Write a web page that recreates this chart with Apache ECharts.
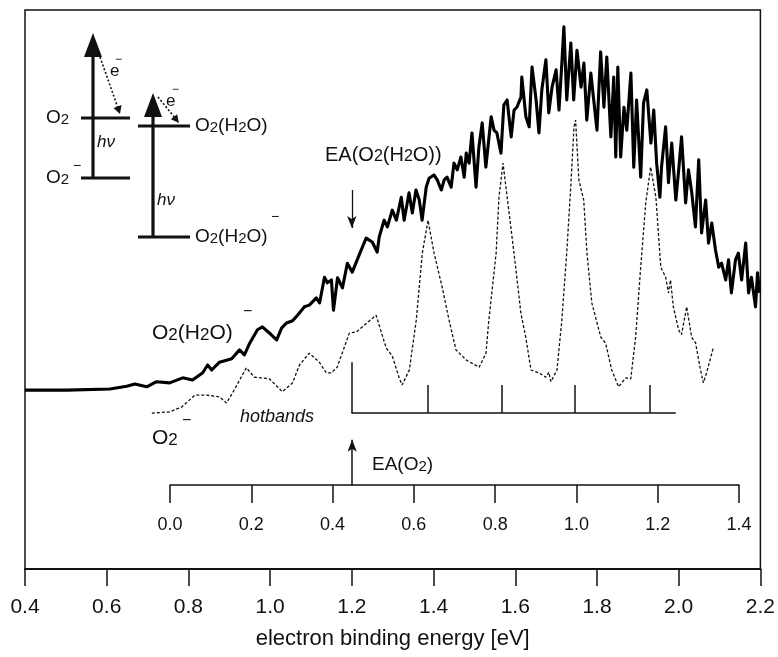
<!DOCTYPE html>
<html>
<head>
<meta charset="utf-8">
<script src="https://cdn.jsdelivr.net/npm/echarts@6/dist/echarts.min.js"></script>
<style>
html,body{margin:0;padding:0;background:#fff;}
#chart{width:778px;height:657px;}
</style>
</head>
<body>
<div id="chart"></div>
<script>
// ---------------- DATA ----------------
// O2(H2O)- photoelectron spectrum (solid), electron binding energy [eV] vs intensity (arb.)
const o2h2oEnergy = [0.400,0.503,0.608,0.649,0.669,0.698,0.722,0.754,0.786,0.810,0.835,0.847,0.857,0.876,0.906,0.925,0.937,0.950,0.969,0.981,1.003,1.016,1.028,1.040,1.055,1.067,1.084,1.096,1.113,1.121,1.133,1.140,1.150,1.155,1.165,1.177,1.189,1.201,1.218,1.235,1.250,1.262,
  1.267,1.279,1.287,1.299,1.309,1.321,1.328,1.340,1.348,1.357,1.365,1.372,1.382,1.389,1.401,1.409,1.419,1.426,1.433,1.443,1.450,1.458,1.467,1.475,1.480,1.487,1.494,1.504,1.511,1.519,1.528,1.541,1.548,1.555,1.565,1.572,1.580,1.590,1.597,1.604,1.614,1.616,1.626,1.634,1.641,1.651,1.658,1.665,1.675,1.682,1.690,1.700,1.707,1.714,1.719,1.726,1.736,1.743,1.751,1.761,1.768,1.775,1.785,1.792,1.800,1.809,1.817,1.824,1.834,1.841,1.846,1.851,1.858,1.866,1.873,1.883,1.890,1.897,1.907,1.914,1.922,1.932,1.939,1.946,1.954,1.958,1.968,1.975,1.983,1.993,2.000,2.007,2.017,2.024,2.032,2.041,2.049,2.056,2.066,2.073,2.081,2.090,2.098,2.105,2.115,2.122,2.129,2.139,2.146,2.154,2.164,2.171,2.178,2.188,2.193,2.198];
const o2h2oIntensity = [32.0,32.0,32.2,32.7,33.1,32.6,33.5,33.3,34.2,33.8,35.1,36.5,35.6,37.0,37.6,39.2,38.3,40.4,42.8,43.3,41.9,41.0,43.1,44.0,44.4,45.4,46.9,47.2,48.5,47.6,52.2,51.2,51.7,46.3,52.1,50.3,54.7,53.1,56.2,59.2,58.5,56.7,
  59.4,62.4,61.2,64.2,62.4,66.5,62.4,67.3,63.7,67.8,66.0,62.4,68.3,69.9,70.5,69.6,67.8,69.6,70.1,68.3,72.6,71.4,73.7,70.1,74.4,72.6,78.0,68.3,75.5,79.8,71.9,80.9,78.5,78.0,74.4,83.0,83.9,77.3,82.1,82.6,84.4,88.0,80.9,79.1,89.8,83.9,78.0,85.7,91.1,81.6,86.2,89.3,82.1,90.5,97.0,83.9,94.1,83.9,92.8,86.2,90.5,80.3,88.7,83.9,78.5,92.5,82.6,91.6,77.3,88.0,73.7,89.8,73.7,82.6,78.5,88.7,71.9,83.9,70.1,83.4,85.7,76.2,82.1,72.6,66.5,71.9,79.1,69.1,76.2,66.0,71.4,77.3,65.5,71.4,67.3,61.2,73.2,60.1,66.0,58.3,61.9,57.1,54.0,54.7,51.7,55.3,49.4,55.3,56.5,51.7,58.3,49.4,52.2,46.9,53.0,49.4];

// O2- photoelectron spectrum (dotted), on the inner O2- binding energy scale [eV]
const o2Energy = [-0.044,0.000,0.030,0.062,0.091,0.123,0.140,0.155,0.189,0.209,0.229,0.246,0.278,0.303,0.320,0.344,0.369,0.386,0.399,0.413,0.443,0.460,0.509,0.534,0.549,0.566,0.573,0.591,0.608,0.623,0.637,0.652,0.672,0.689,0.706,0.731,0.763,0.780,0.787,0.805,0.812,0.822,0.837,0.854,0.866,0.878,0.891,0.910,0.928,0.935,0.940,0.955,0.967,0.979,0.989,0.997,1.001,1.009,1.021,1.029,1.041,1.063,1.075,1.090,1.107,1.125,1.137,1.149,1.161,1.174,1.186,1.199,1.211,1.223,1.230,1.235,1.242,1.255,1.262,1.275,1.287,1.297,1.309,1.316,1.324,1.341];
const o2Intensity = [27.9,28.1,29.0,31.1,31.1,30.8,29.7,31.5,36.0,34.3,34.2,34.0,31.7,33.3,36.5,38.6,37.0,35.1,35.1,36.1,42.2,42.4,45.4,39.5,38.1,34.2,32.9,35.6,44.5,56.5,62.4,56.5,50.4,44.5,39.2,37.4,36.1,38.6,44.5,56.5,66.5,72.6,63.7,53.5,45.8,41.5,35.6,35.1,34.3,35.2,33.5,35.6,44.5,56.5,68.3,79.1,80.3,69.6,66.0,56.5,47.6,41.5,40.4,35.6,32.6,34.2,34.0,41.5,53.5,65.5,71.9,66.5,54.0,52.2,49.4,51.7,46.9,42.8,41.9,46.9,41.5,40.4,35.6,33.3,35.1,39.7];

// O2 vibrational progression (comb), inner scale [eV]
const o2VibLevels = [0.448, 0.637, 0.819, 0.999, 1.184];
const o2CombEnd = 1.248;
// Electron affinities
const eaO2 = 0.45;       // inner scale
const eaO2H2O = 1.2;     // main scale
// Tick labels
const mainTickLabels = ['0.4','0.6','0.8','1.0','1.2','1.4','1.6','1.8','2.0','2.2'];
const innerTickLabels = ['0.0','0.2','0.4','0.6','0.8','1.0','1.2','1.4'];

// ---------------- LAYOUT / STYLE ----------------
const FONT = '"Liberation Sans", Arial, Helvetica, sans-serif';
const INK = '#111';
const zip = (a, b) => a.map((x, i) => [x, b[i]]);
const combBase = 27.9, combTop = 32.9, combFirstTop = 37.0;

const chart = echarts.init(document.getElementById('chart'), null, {renderer: 'canvas'});

function chem(s, big, small) {
  const parts = s.split(/(2)/).filter(p => p.length);
  return {
    text: parts.map(p => p === '2' ? '{s|2}' : '{n|' + p + '}').join(''),
    rich: {
      n: {fontSize: big, fontFamily: FONT, fill: INK, verticalAlign: 'bottom'},
      s: {fontSize: small, fontFamily: FONT, fill: INK, verticalAlign: 'bottom'}
    }
  };
}
function label(x, y, s, big, small, extra) {
  const c = chem(s, big, small);
  return {type: 'text', x: x, y: y, z: 50,
    style: Object.assign({text: c.text, rich: c.rich, fontSize: big, fontFamily: FONT, fill: INK,
      align: 'left', verticalAlign: 'middle'}, extra || {})};
}
function plain(x, y, s, size, extra) {
  return {type: 'text', x: x, y: y, z: 50,
    style: Object.assign({text: s, fontSize: size, fontFamily: FONT, fill: INK,
      align: 'left', verticalAlign: 'middle'}, extra || {})};
}
function seg(x1, y1, x2, y2, w, dash) {
  return {type: 'line', z: 50, shape: {x1, y1, x2, y2},
    style: {stroke: INK, lineWidth: w, lineDash: dash || null}};
}
function tri(p) { return {type: 'polygon', z: 50, shape: {points: p}, style: {fill: INK}}; }

const combLines = [
  [{coord: [o2VibLevels[0], combBase]}, {coord: [o2CombEnd, combBase]}],
  [{coord: [o2VibLevels[0], combBase]}, {coord: [o2VibLevels[0], combFirstTop]}]
].concat(o2VibLevels.slice(1).map(u => [{coord: [u, combBase]}, {coord: [u, combTop]}]));

const option = {
  animation: false,
  backgroundColor: '#fff',
  grid: [
    {left: 25, right: 16, top: 10, bottom: 88, show: true, borderColor: INK, borderWidth: 1.5},
    {left: 170, right: 39, bottom: 172, height: 40}
  ],
  xAxis: [
    {gridIndex: 0, type: 'value', min: 0.4, max: 2.2, interval: 0.2,
      name: 'electron binding energy [eV]', nameLocation: 'middle', nameGap: 59,
      nameTextStyle: {fontSize: 22, fontFamily: FONT, color: INK},
      axisLine: {onZero: false, lineStyle: {color: INK, width: 2}},
      axisTick: {length: 17, lineStyle: {color: INK, width: 1.5}},
      axisLabel: {fontSize: 21, fontFamily: FONT, color: INK, margin: 28,
        formatter: v => mainTickLabels[Math.round((v - 0.4) / 0.2)]},
      splitLine: {show: false}},
    {gridIndex: 1, type: 'value', min: 0, max: 1.4, interval: 0.2,
      axisLine: {onZero: false, lineStyle: {color: INK, width: 1.5}},
      axisTick: {length: 18, lineStyle: {color: INK, width: 1.5}},
      axisLabel: {fontSize: 18, fontFamily: FONT, color: INK, margin: 31,
        formatter: v => innerTickLabels[Math.round(v / 0.2)]},
      splitLine: {show: false}},
    {gridIndex: 0, type: 'value', min: -0.3568, max: 1.4567, show: false}
  ],
  yAxis: [
    {gridIndex: 0, type: 'value', min: 0, max: 100, show: false},
    {gridIndex: 1, type: 'value', min: 0, max: 1, show: false}
  ],
  series: [
    {type: 'line', name: 'O2-', xAxisIndex: 2, yAxisIndex: 0,
      data: zip(o2Energy, o2Intensity), symbol: 'none', smooth: false,
      lineStyle: {color: INK, width: 1.3, type: [3, 2]},
      markLine: {silent: true, symbol: 'none', label: {show: false},
        lineStyle: {color: INK, width: 1.5, type: 'solid'},
        data: combLines.concat([
          [{coord: [eaO2, 15.0], symbol: 'none'}, {coord: [eaO2, 23.1], symbol: 'arrow', symbolSize: [7, 12]}]
        ])}},
    {type: 'line', name: 'O2(H2O)-', xAxisIndex: 0, yAxisIndex: 0,
      data: zip(o2h2oEnergy, o2h2oIntensity), symbol: 'none', smooth: false,
      lineStyle: {color: '#000', width: 3.1, join: 'round'},
      markLine: {silent: true, label: {show: false},
        lineStyle: {color: INK, width: 1.3, type: 'solid'},
        data: [[{coord: [eaO2H2O, 67.8], symbol: 'none'}, {coord: [eaO2H2O, 61.0], symbol: 'arrow', symbolSize: [7, 12]}]]}}
  ],
  graphic: [
    // inset energy level diagram: O2 / O2-
    seg(81, 118, 130, 118, 3.2),
    seg(81, 178, 130, 178, 3.2),
    seg(93, 178, 93, 54, 3.2),
    tri([[93, 33], [84, 57], [102, 57]]),
    seg(100, 57, 118, 108, 1.6, [2, 2]),
    tri([[120, 114], [121.5, 105], [113.5, 108]]),
    label(46, 118, 'O2', 19, 15),
    label(46, 178, 'O2', 19, 15),
    plain(73, 166, '\u2212', 14),
    plain(97, 142, 'h\u03bd', 17, {fontStyle: 'italic'}),
    plain(110, 71, 'e', 17),
    plain(115, 60, '\u2212', 12),
    // inset: O2(H2O) / O2(H2O)-
    seg(138, 126, 190, 126, 3.2),
    seg(138, 237, 190, 237, 3.2),
    seg(153, 237, 153, 112, 3.2),
    tri([[153, 93], [144, 117], [162, 117]]),
    seg(158, 97, 175, 118, 1.6, [2, 2]),
    tri([[179, 123], [177.1, 114.3], [170.9, 119.3]]),
    label(195, 126, 'O2(H2O)', 19, 15),
    label(195, 237, 'O2(H2O)', 19, 15),
    plain(271, 217, '\u2212', 14),
    plain(157, 200, 'h\u03bd', 17, {fontStyle: 'italic'}),
    plain(166, 101, 'e', 17),
    plain(172, 90, '\u2212', 12),
    // annotations
    label(325, 155, 'EA(O2(H2O))', 20, 16),
    label(372, 465, 'EA(O2)', 19, 15),
    label(152, 333, 'O2(H2O)', 21, 17),
    plain(243, 312, '\u2212', 16),
    label(152, 438, 'O2', 21, 17),
    plain(182, 421, '\u2212', 16),
    plain(240, 417, 'hotbands', 18, {fontStyle: 'italic'})
  ]
};
chart.setOption(option);
</script>
</body>
</html>
